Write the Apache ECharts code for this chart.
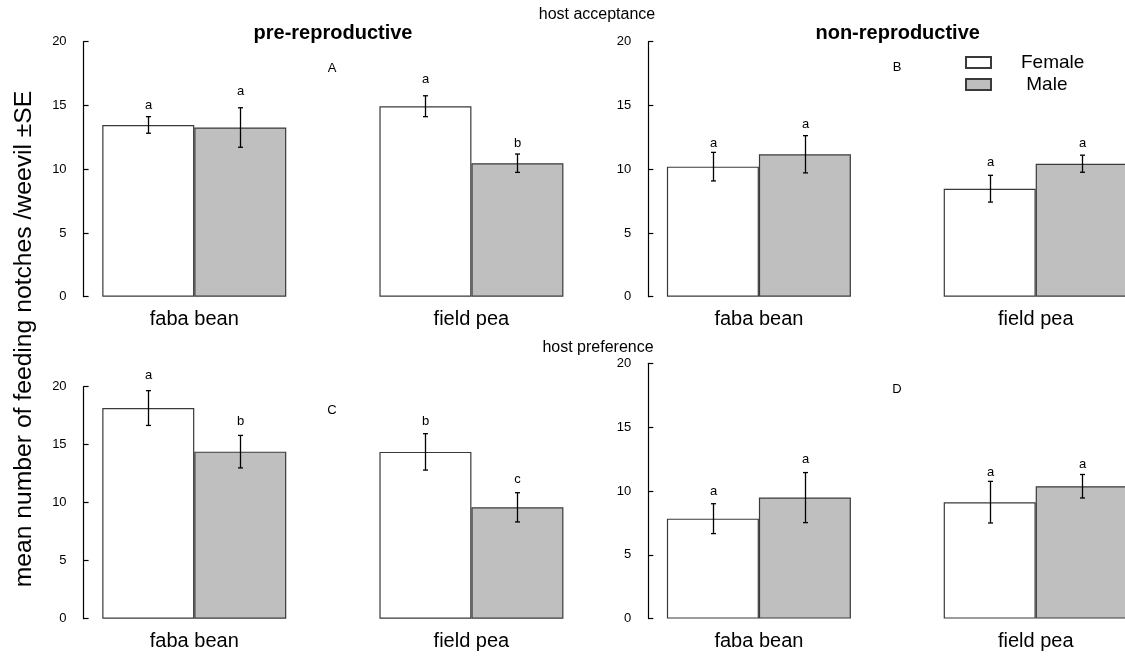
<!DOCTYPE html>
<html><head><meta charset="utf-8">
<script src="https://cdn.jsdelivr.net/npm/echarts@6/dist/echarts.min.js"></script>
<style>html,body{margin:0;padding:0;background:#fff;overflow:hidden;width:1125px;height:656px}#c{width:1200px;height:656px}</style>
</head><body><div id="c"></div>
<script>
// ---- data ----
const categories = ['faba bean', 'field pea'];
const seriesNames = ['Female', 'Male'];
const yMin = 0, yMax = 20, yStep = 5;

// Panel A: host acceptance, pre-reproductive
const aFemale = [13.47, 14.94];
const aFemaleSE = [0.65, 0.82];
const aMale = [13.27, 10.47];
const aMaleSE = [1.55, 0.72];
const aFemaleLetters = ['a', 'a'];
const aMaleLetters = ['a', 'b'];
const aFemaleLetterAt = [15.0, 17.05];
const aMaleLetterAt = [16.1, 12.0];

// Panel B: host acceptance, non-reproductive
const bFemale = [10.2, 8.47];
const bFemaleSE = [1.12, 1.05];
const bMale = [11.17, 10.43];
const bMaleSE = [1.46, 0.67];
const bFemaleLetters = ['a', 'a'];
const bMaleLetters = ['a', 'a'];
const bFemaleLetterAt = [12.05, 10.56];
const bMaleLetterAt = [13.55, 12.05];

// Panel C: host preference, pre-reproductive
const cFemale = [18.16, 14.38];
const cFemaleSE = [1.5, 1.57];
const cMale = [14.4, 9.6];
const cMaleSE = [1.4, 1.26];
const cFemaleLetters = ['a', 'b'];
const cMaleLetters = ['b', 'c'];
const cFemaleLetterAt = [20.97, 16.98];
const cMaleLetterAt = [16.98, 12.02];

// Panel D: host preference, non-reproductive
const dFemale = [7.83, 9.12];
const dFemaleSE = [1.17, 1.63];
const dMale = [9.48, 10.37];
const dMaleSE = [1.96, 0.92];
const dFemaleLetters = ['a', 'a'];
const dMaleLetters = ['a', 'a'];
const dFemaleLetterAt = [9.98, 11.49];
const dMaleLetterAt = [12.5, 12.04];

const panelLabels = ['A', 'B', 'C', 'D'];
const rowTitles = ['host acceptance', 'host preference'];
const colTitles = ['pre-reproductive', 'non-reproductive'];
const yTitle = 'mean number of feeding notches /weevil \u00b1SE';

// ---- layout / style ----
const FONT = '"Liberation Sans", Arial, Helvetica, sans-serif';
const BAR_W = 92;
const grids = [
  {left: 55.7, top: 41.7, width: 554.3, height: 255},
  {left: 620.5, top: 41.7, width: 553.6, height: 255},
  {left: 55.7, top: 386.7, width: 554.3, height: 232},
  {left: 620.5, top: 363.3, width: 553.6, height: 255.3}
];
const axisOffsets = [-27.9, -27.8, -27.9, -27.8];

const panels = [
  [aFemale, aFemaleSE, aFemaleLetters, aFemaleLetterAt, aMale, aMaleSE, aMaleLetters, aMaleLetterAt],
  [bFemale, bFemaleSE, bFemaleLetters, bFemaleLetterAt, bMale, bMaleSE, bMaleLetters, bMaleLetterAt],
  [cFemale, cFemaleSE, cFemaleLetters, cFemaleLetterAt, cMale, cMaleSE, cMaleLetters, cMaleLetterAt],
  [dFemale, dFemaleSE, dFemaleLetters, dFemaleLetterAt, dMale, dMaleSE, dMaleLetters, dMaleLetterAt]
];

function errRender(means, ses, letters, letterAt, side) {
  return function (params, api) {
    const i = api.value(0);
    const c = api.coord([i, means[i]]);
    const x = Math.round(c[0] + side * BAR_W / 2) + 0.5;
    const top = api.coord([i, means[i] + ses[i]])[1];
    const bot = api.coord([i, means[i] - ses[i]])[1];
    const ly = api.coord([i, letterAt[i]])[1];
    const st = {stroke: '#000', lineWidth: 1.3};
    return {
      type: 'group',
      children: [
        {type: 'line', shape: {x1: x, y1: top, x2: x, y2: bot}, style: st},
        {type: 'line', shape: {x1: x - 2.5, y1: top, x2: x + 2.5, y2: top}, style: st},
        {type: 'line', shape: {x1: x - 2.5, y1: bot, x2: x + 2.5, y2: bot}, style: st},
        {type: 'text', style: {text: letters[i], x: x, y: ly, textAlign: 'center', textVerticalAlign: 'middle',
          font: '13px ' + FONT, fill: '#000'}}
      ]
    };
  };
}

const xAxes = [], yAxes = [], series = [];
panels.forEach((p, k) => {
  xAxes.push({
    type: 'category', gridIndex: k, data: categories,
    axisLine: {show: false}, axisTick: {show: false},
    axisLabel: {fontSize: 20, color: '#000', fontFamily: FONT, margin: 13}
  });
  yAxes.push({
    type: 'value', gridIndex: k, min: yMin, max: yMax, interval: yStep, offset: axisOffsets[k],
    axisLine: {show: true, lineStyle: {color: '#000', width: 1.2}},
    axisTick: {show: true, inside: true, length: 5, lineStyle: {color: '#000', width: 1.2}},
    axisLabel: {fontSize: 13, color: '#000', fontFamily: FONT, margin: 17},
    splitLine: {show: false}
  });
  const [fm, fse, fl, fla, mm, mse, ml, mla] = p;
  series.push({
    name: seriesNames[0], type: 'bar', xAxisIndex: k, yAxisIndex: k, data: fm,
    barWidth: BAR_W, barGap: '0%',
    itemStyle: {color: '#ffffff', borderColor: '#3a3a3a', borderWidth: 1.2}
  });
  series.push({
    name: seriesNames[1], type: 'bar', xAxisIndex: k, yAxisIndex: k, data: mm,
    barWidth: BAR_W, barGap: '0%',
    itemStyle: {color: '#bfbfbf', borderColor: '#3a3a3a', borderWidth: 1.2}
  });
  series.push({
    type: 'custom', xAxisIndex: k, yAxisIndex: k, z: 5,
    data: categories.map((c, i) => [i, fm[i]]), encode: {x: 0, y: 1},
    renderItem: errRender(fm, fse, fl, fla, -1), clip: false, silent: true
  });
  series.push({
    type: 'custom', xAxisIndex: k, yAxisIndex: k, z: 5,
    data: categories.map((c, i) => [i, mm[i]]), encode: {x: 0, y: 1},
    renderItem: errRender(mm, mse, ml, mla, 1), clip: false, silent: true
  });
});

function txt(text, x, y, size, opts) {
  return Object.assign({
    type: 'text', x: x, y: y,
    style: {text: text, font: size + 'px ' + FONT, fill: '#000', textAlign: 'center', textVerticalAlign: 'middle'}
  }, opts || {});
}

const panelLabelPos = [[332, 68], [897, 67], [332, 410], [897, 389]];
const graphics = [
  txt(rowTitles[0], 597, 15, 16),
  txt(rowTitles[1], 598, 348, 16),
  {type: 'text', x: 333, y: 33, style: {text: colTitles[0], font: 'bold 20px ' + FONT, fill: '#000', textAlign: 'center', textVerticalAlign: 'middle'}},
  {type: 'text', x: 897.7, y: 33, style: {text: colTitles[1], font: 'bold 20px ' + FONT, fill: '#000', textAlign: 'center', textVerticalAlign: 'middle'}},
  {type: 'text', x: 24, y: 339, rotation: Math.PI / 2,
    style: {text: yTitle, font: '24.7px ' + FONT, fill: '#000', textAlign: 'center', textVerticalAlign: 'middle'}}
];
panelLabels.forEach((l, k) => graphics.push(txt(l, panelLabelPos[k][0], panelLabelPos[k][1], 13)));

const chart = echarts.init(document.getElementById('c'), null, {renderer: 'canvas'});
chart.setOption({
  animation: false,
  backgroundColor: '#ffffff',
  grid: grids.map(g => Object.assign({containLabel: false}, g)),
  xAxis: xAxes,
  yAxis: yAxes,
  legend: {
    data: seriesNames, orient: 'vertical', left: 960, top: 48,
    itemWidth: 25, itemHeight: 11, itemGap: 3, icon: 'rect',
    formatter: n => n === 'Male' ? ' ' + n : n,
    textStyle: {fontSize: 19, color: '#000', fontFamily: FONT, padding: [0, 0, 0, 25]},
    selectedMode: false
  },
  graphic: graphics,
  series: series
});
</script></body></html>
